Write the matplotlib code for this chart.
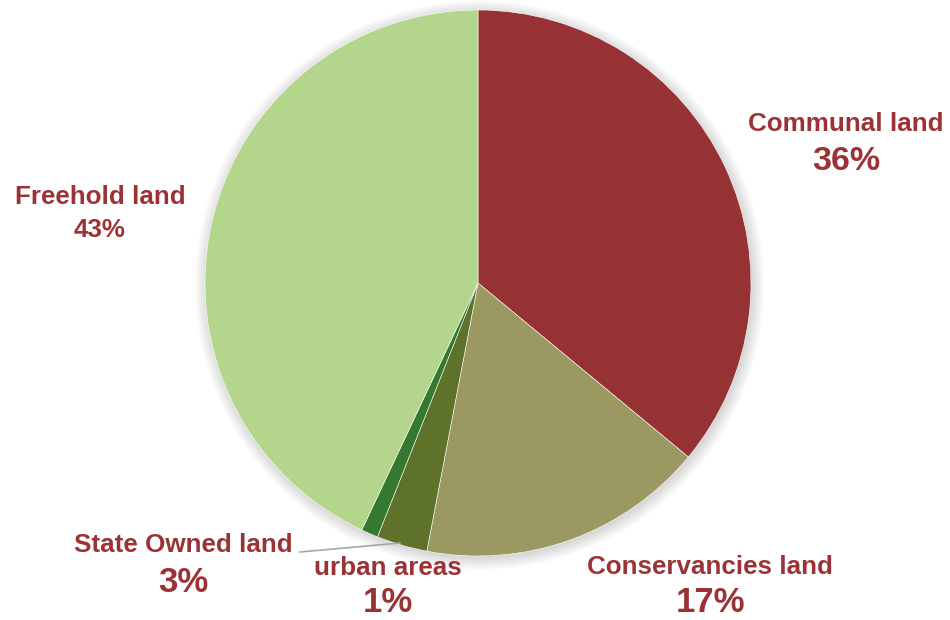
import matplotlib
matplotlib.use("Agg")
import matplotlib.pyplot as plt
from matplotlib.patches import Circle

# data (clockwise from 12 o'clock)
categories = ["Communal land", "Conservancies land", "State Owned land",
              "urban areas", "Freehold land"]
shares = [36, 17, 3, 1, 43]
colors = ["#973234", "#9b9862", "#5e7229", "#34792f", "#b3d68c"]

# label anchor points in pixels (x, y of name; percentage sits below)
label_pos = [(846, 124), (710, 567), (183, 545), (388, 568), (100, 197)]
pct_gap = [37, 36, 37, 35, 33]
pct_size = [24.5, 25, 25, 25, 18.7]

W, H = 950, 620
TEXT = "#9b3336"

plt.rcParams['font.family'] = ['Liberation Sans', 'DejaVu Sans']

fig = plt.figure(figsize=(W / 100, H / 100), dpi=100)
cx, cy, r = 478, 283, 273
ax = fig.add_axes([(cx - r) / W, (H - cy - r) / H, 2 * r / W, 2 * r / H])
ax.set_xlim(-1, 1)
ax.set_ylim(-1, 1)
ax.set_aspect('equal')
ax.axis('off')

# soft shadow behind the pie
for i in range(8):
    ax.add_patch(Circle((0.006, -0.008), 1.0 + 0.006 * i, color='black',
                        alpha=0.018, lw=0, zorder=0, clip_on=False))

ax.pie(shares, colors=colors, startangle=90, counterclock=False,
       radius=1.0, wedgeprops=dict(linewidth=0.4, edgecolor='white'))
ax.set_xlim(-1, 1)
ax.set_ylim(-1, 1)

for name, (x, y), g, ps, val in zip(categories, label_pos, pct_gap, pct_size, shares):
    fig.text(x / W, 1 - y / H, name, ha='center', va='center',
             fontsize=18.7, fontweight='bold', color=TEXT)
    fig.text(x / W, 1 - (y + g) / H, f"{val}%", ha='center', va='center',
             fontsize=ps, fontweight='bold', color=TEXT)

# leader line for State Owned land
fig.add_artist(plt.Line2D([300 / W, 400 / W], [1 - 552 / H, 1 - 543 / H],
                          color='#a6a6a6', lw=1.2))

fig.savefig("out.png", dpi=100, facecolor='white')
